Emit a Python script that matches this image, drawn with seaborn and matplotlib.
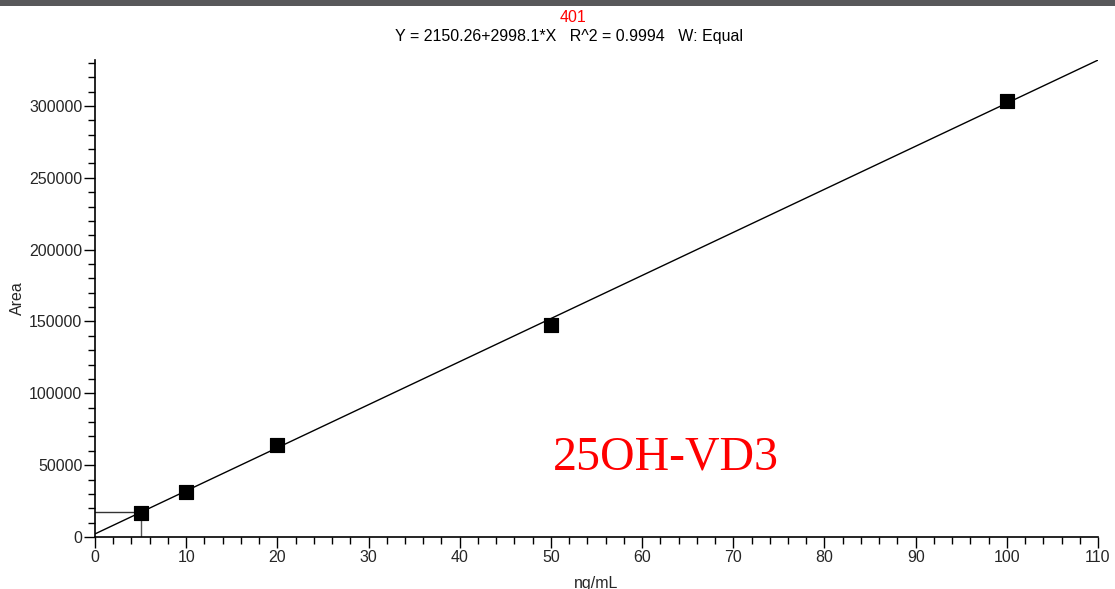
import numpy as np
import pandas as pd
import matplotlib
matplotlib.use("Agg")
import matplotlib.pyplot as plt
from matplotlib.patches import Rectangle
from matplotlib.ticker import MultipleLocator
import seaborn as sns

# ---- data ----
conc = [5, 10, 20, 50, 100]            # ng/mL
area = [16900, 31600, 64000, 147500, 303500]
intercept = 2150.26
slope = 2998.1
fit_x = [0, 110]
cross_x = 5
cross_y = 17140
title_main = "401"
title_sub = "Y = 2150.26+2998.1*X   R^2 = 0.9994   W: Equal"
label = "25OH-VD3"
x_ticks = [0, 10, 20, 30, 40, 50, 60, 70, 80, 90, 100, 110]
y_ticks = [0, 50000, 100000, 150000, 200000, 250000, 300000]

sns.set_theme(style="ticks")
plt.rcParams['font.family'] = ['Liberation Sans', 'DejaVu Sans']

fig = plt.figure(figsize=(11.15, 5.89), dpi=100)
ax = fig.add_axes([95/1115, 52/589, (1098-95)/1115, (537-60)/589])

# top dark bar
fig.patches.append(Rectangle((0, 1 - 6/589), 1, 6/589, transform=fig.transFigure,
                             facecolor="#58585a", edgecolor="none", zorder=10))

fit_df = pd.DataFrame({"x": fit_x,
                       "y": [intercept + slope * v for v in fit_x]})
sns.lineplot(data=fit_df, x="x", y="y", ax=ax, color="black", linewidth=1.0)

# crosshair
ax.plot([0, cross_x], [cross_y, cross_y], color="#333333", linewidth=1.0)
ax.plot([cross_x, cross_x], [0, cross_y], color="#555555", linewidth=1.0)

pts = pd.DataFrame({"conc": conc, "area": area})
sns.scatterplot(data=pts, x="conc", y="area", ax=ax, marker="s", s=110,
                color="black", edgecolor="black", zorder=5)

ax.set_xlim(0, 110)
ax.set_ylim(0, 332000)
ax.set_xticks(x_ticks)
ax.set_yticks(y_ticks)
ax.set_yticklabels([str(v) for v in y_ticks])
ax.xaxis.set_minor_locator(MultipleLocator(2))
ax.yaxis.set_minor_locator(MultipleLocator(10000))
ax.tick_params(axis="both", which="major", length=8, width=1.0, color="black",
               labelsize=11.5, pad=1, direction="out")
ax.tick_params(axis="both", which="minor", length=5, width=1.0, color="black",
               direction="out")
for s in ["top", "right"]:
    ax.spines[s].set_visible(False)
for s in ["left", "bottom"]:
    ax.spines[s].set_linewidth(1.2)
    ax.spines[s].set_color("black")

ax.set_xlabel("ng/mL", fontsize=11.5, labelpad=8)
ax.set_ylabel("Area", fontsize=11.5, labelpad=3)

fig.text(573/1115, 1 - 17/589, title_main, color="red", fontsize=11.5,
         ha="center", va="center")
fig.text(569/1115, 1 - 37/589, title_sub, color="black", fontsize=11.5,
         ha="center", va="center")

ax.text(50.2, 55500, label, color="red", fontsize=34.5,
        family=["Liberation Serif", "DejaVu Serif"], ha="left", va="center")

fig.savefig("out.png", dpi=100)
